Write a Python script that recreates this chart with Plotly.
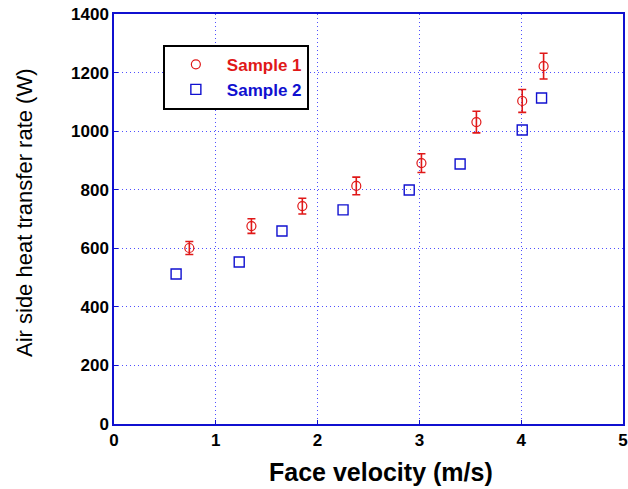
import plotly.graph_objects as go

# Sample 1 (red circles with error bars)
s1_v = [0.74, 1.35, 1.85, 2.38, 3.02, 3.56, 4.01, 4.22]
s1_q = [601, 676, 744, 813, 891, 1031, 1103, 1222]
s1_err = [22, 25, 27, 30, 32, 37, 39, 44]

# Sample 2 (blue squares)
s2_v = [0.61, 1.23, 1.65, 2.25, 2.90, 3.40, 4.01, 4.20]
s2_q = [512, 553, 659, 731, 799, 888, 1004, 1113]

x_ticks = [0, 1, 2, 3, 4, 5]
y_ticks = [0, 200, 400, 600, 800, 1000, 1200, 1400]

x_title = "Face velocity (m/s)"
y_title = "Air side heat transfer rate (W)"

RED = "#e01818"
BLUE = "#1010d0"
GRID = "#5050ff"
FONT = "Liberation Sans, Arial, sans-serif"

W, H = 628, 489
ML, MR, MT, MB = 114, 5, 14, 65

fig = go.Figure()
fig.add_trace(go.Scatter(
    x=s1_v, y=s1_q, mode="markers",
    name="<b><span style='color:%s'>Sample 1</span></b>" % RED,
    marker=dict(symbol="circle-open", size=9, color=RED, line=dict(width=1.2, color=RED)),
    error_y=dict(type="data", array=s1_err, visible=True, color=RED, thickness=1.6, width=4),
))
fig.add_trace(go.Scatter(
    x=s2_v, y=s2_q, mode="markers",
    name="<b><span style='color:%s'>Sample 2</span></b>" % BLUE,
    marker=dict(symbol="square-open", size=10, color=BLUE, line=dict(width=1.4, color=BLUE)),
))

axis_common = dict(
    showgrid=True, gridcolor=GRID, gridwidth=1, griddash="1px,3px",
    showline=True, linecolor=BLUE, linewidth=1.5, mirror=True,
    ticks="inside", ticklen=4, tickcolor=BLUE,
    zeroline=False, automargin=False,
    tickfont=dict(family=FONT, size=17, color="black", weight="bold"),
)

pw = W - ML - MR
ph = H - MT - MB

fig.update_layout(
    width=W, height=H,
    margin=dict(l=ML, r=MR, t=MT, b=MB),
    paper_bgcolor="white", plot_bgcolor="white",
    font=dict(family=FONT),
    showlegend=True,
    legend=dict(
        x=0.096, y=0.925, xanchor="left", yanchor="top",
        bordercolor="black", borderwidth=2, bgcolor="white",
        font=dict(family=FONT, size=17),
        itemwidth=52, tracegroupgap=0,
    ),
    xaxis=dict(range=[0, 5], tickvals=x_ticks, **axis_common),
    yaxis=dict(range=[0, 1400], tickvals=y_ticks, **axis_common),
    annotations=[
        dict(text="<b>%s</b>" % x_title, xref="paper", yref="paper",
             x=(381 - ML) / pw, y=-(472 - MT - ph) / ph,
             xanchor="center", yanchor="middle", showarrow=False,
             font=dict(family=FONT, size=25, color="black")),
        dict(text=y_title, xref="paper", yref="paper", textangle=-90,
             x=-(ML - 24) / pw, y=(H - MB - 213) / ph,
             xanchor="center", yanchor="middle", showarrow=False,
             font=dict(family=FONT, size=22, color="black")),
    ],
)

fig.write_html("out.html", config={"displayModeBar": False},
               post_script="document.body.style.margin='0px';document.body.style.padding='0px';")
